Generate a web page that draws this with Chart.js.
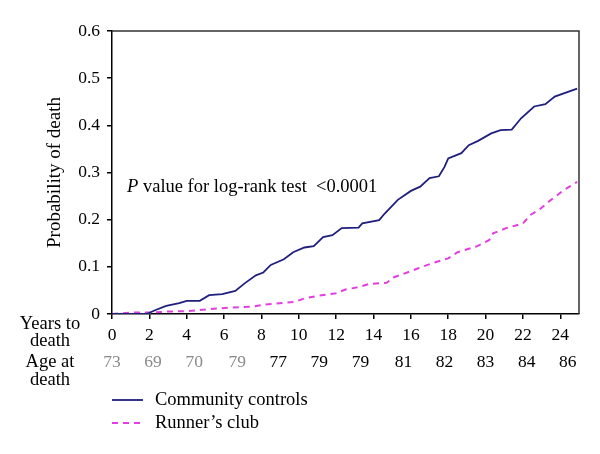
<!DOCTYPE html>
<html>
<head>
<meta charset="utf-8">
<script src="https://cdn.jsdelivr.net/npm/chart.js@4/dist/chart.umd.min.js"></script>
<style>
  html, body { margin: 0; padding: 0; background: #fff; }
  #wrap { width: 600px; height: 454px; position: relative; }
</style>
</head>
<body>
<div id="wrap"><canvas id="km"></canvas></div>
<script>
// years to death, cumulative probability of death
const controlsYears = [0, 1.86, 2.3, 2.9, 3.6, 4.0, 4.7, 5.2, 5.9, 6.6, 7.1, 7.7, 8.1, 8.5, 9.2, 9.7, 10.3, 10.8, 11.3, 11.8, 12.3, 13.2, 13.4, 14.3, 14.6, 15.3, 16.0, 16.5, 17.0, 17.5, 17.8, 18.0, 18.7, 19.1, 19.6, 20.3, 20.8, 21.4, 21.9, 22.6, 23.2, 23.7, 24.9];
const controlsProb  = [0, 0, 0.008, 0.017, 0.023, 0.028, 0.028, 0.040, 0.042, 0.049, 0.065, 0.082, 0.088, 0.104, 0.116, 0.131, 0.141, 0.144, 0.163, 0.167, 0.182, 0.183, 0.192, 0.199, 0.213, 0.242, 0.261, 0.270, 0.288, 0.292, 0.312, 0.330, 0.341, 0.358, 0.367, 0.383, 0.390, 0.391, 0.415, 0.440, 0.445, 0.461, 0.478];

const runnersYears = [0, 1.1, 2.0, 2.9, 4.0, 5.1, 6.5, 7.6, 8.2, 9.8, 10.3, 11.1, 12.0, 12.5, 13.2, 13.8, 14.7, 15.1, 15.6, 16.4, 17.1, 18.0, 18.5, 19.5, 20.2, 20.4, 21.1, 22.0, 22.4, 22.9, 23.5, 24.2, 24.9];
const runnersProb  = [0, 0.003, 0.003, 0.005, 0.006, 0.010, 0.014, 0.016, 0.020, 0.026, 0.033, 0.039, 0.044, 0.052, 0.057, 0.064, 0.066, 0.078, 0.085, 0.097, 0.107, 0.118, 0.131, 0.143, 0.157, 0.171, 0.182, 0.192, 0.210, 0.222, 0.242, 0.263, 0.280];

// age at death row under the x axis
const ageLabels = ['73', '69', '70', '79', '77', '79', '79', '81', '82', '83', '84', '86'];
const ageYears  = [0, 2.2, 4.4, 6.7, 8.9, 11.1, 13.3, 15.6, 17.8, 20.0, 22.2, 24.4];
const ageGrey   = 4; // first ones printed in grey

const seriesNames = ['Community controls', 'Runner\u2019s club'];

const FONT = '"Liberation Serif", "Times New Roman", serif';
const TXT = '18.5px ' + FONT;
const pts = (xs, ys) => xs.map((x, i) => ({ x, y: ys[i] }));

const extras = {
    id: 'extras',
    afterDraw(chart) {
        const { ctx, chartArea: a, scales: { x } } = chart;
        ctx.save();

        // frame top + right
        ctx.strokeStyle = '#333';
        ctx.lineWidth = 1.5;
        ctx.beginPath();
        ctx.moveTo(a.left, a.top);
        ctx.lineTo(a.right, a.top);
        ctx.lineTo(a.right, a.bottom);
        ctx.stroke();

        ctx.fillStyle = '#000';
        ctx.font = TXT;
        ctx.textAlign = 'center';
        ctx.textBaseline = 'middle';
        ctx.fillText('Years to', 50, 324);
        ctx.fillText('death', 50, 341);
        ctx.fillText('Age at', 50, 362);
        ctx.fillText('death', 50, 380);

        ctx.font = '17.5px ' + FONT;
        ageLabels.forEach((lab, i) => {
            ctx.fillStyle = i < ageGrey ? '#8a8a8a' : '#000';
            ctx.fillText(lab, x.getPixelForValue(ageYears[i]), 362);
        });

        // p value note
        ctx.fillStyle = '#000';
        ctx.textAlign = 'left';
        ctx.font = 'italic ' + TXT;
        ctx.fillText('P', 127, 187);
        const pw = ctx.measureText('P').width;
        ctx.font = TXT;
        ctx.fillText(' value for log-rank test  <0.0001', 127 + pw, 187);

        // legend
        chart.data.datasets.forEach((ds, i) => {
            const y = 400 + i * 23;
            ctx.strokeStyle = ds.borderColor;
            ctx.lineWidth = ds.borderWidth;
            ctx.setLineDash(ds.borderDash || []);
            ctx.beginPath();
            ctx.moveTo(112, y);
            ctx.lineTo(143, y);
            ctx.stroke();
            ctx.setLineDash([]);
            ctx.fillStyle = '#000';
            ctx.fillText(ds.label, 155, y);
        });
        ctx.restore();
    }
};

new Chart(document.getElementById('km'), {
    type: 'line',
    data: {
        datasets: [
            {
                label: seriesNames[0],
                data: pts(controlsYears, controlsProb),
                borderColor: '#1f1f7e',
                borderWidth: 1.8,
                pointRadius: 0
            },
            {
                label: seriesNames[1],
                data: pts(runnersYears, runnersProb),
                borderColor: '#e23ee2',
                borderWidth: 2,
                borderDash: [6, 5],
                pointRadius: 0
            }
        ]
    },
    options: {
        responsive: true,
        maintainAspectRatio: false,
        animation: false,
        layout: { padding: { top: 31, right: 21, left: 0, bottom: 0 } },
        plugins: {
            legend: { display: false },
            tooltip: { enabled: false }
        },
        scales: {
            x: {
                type: 'linear',
                min: 0,
                max: 25,
                afterFit: s => { s.height = 140; },
                grid: { drawOnChartArea: false, drawTicks: true, tickLength: 5, color: '#000', lineWidth: 1.5 },
                border: { color: '#000', width: 1.5 },
                ticks: {
                    stepSize: 2,
                    includeBounds: false,
                    maxRotation: 0,
                    padding: 6,
                    color: '#000',
                    font: { family: FONT, size: 17.5 }
                }
            },
            y: {
                min: 0,
                max: 0.6,
                afterFit: s => { s.width = 112; },
                grid: { drawOnChartArea: false, drawTicks: true, tickLength: 5, color: '#000', lineWidth: 1.5 },
                border: { color: '#000', width: 1.5 },
                title: {
                    display: true,
                    text: 'Probability of death',
                    color: '#000',
                    padding: { top: 44, bottom: 0 },
                    font: { family: FONT, size: 19 }
                },
                ticks: {
                    stepSize: 0.1,
                    padding: 7,
                    color: '#000',
                    font: { family: FONT, size: 17.5 },
                    callback: v => v === 0 ? '0' : v.toFixed(1)
                }
            }
        }
    },
    plugins: [extras]
});
</script>
</body>
</html>
